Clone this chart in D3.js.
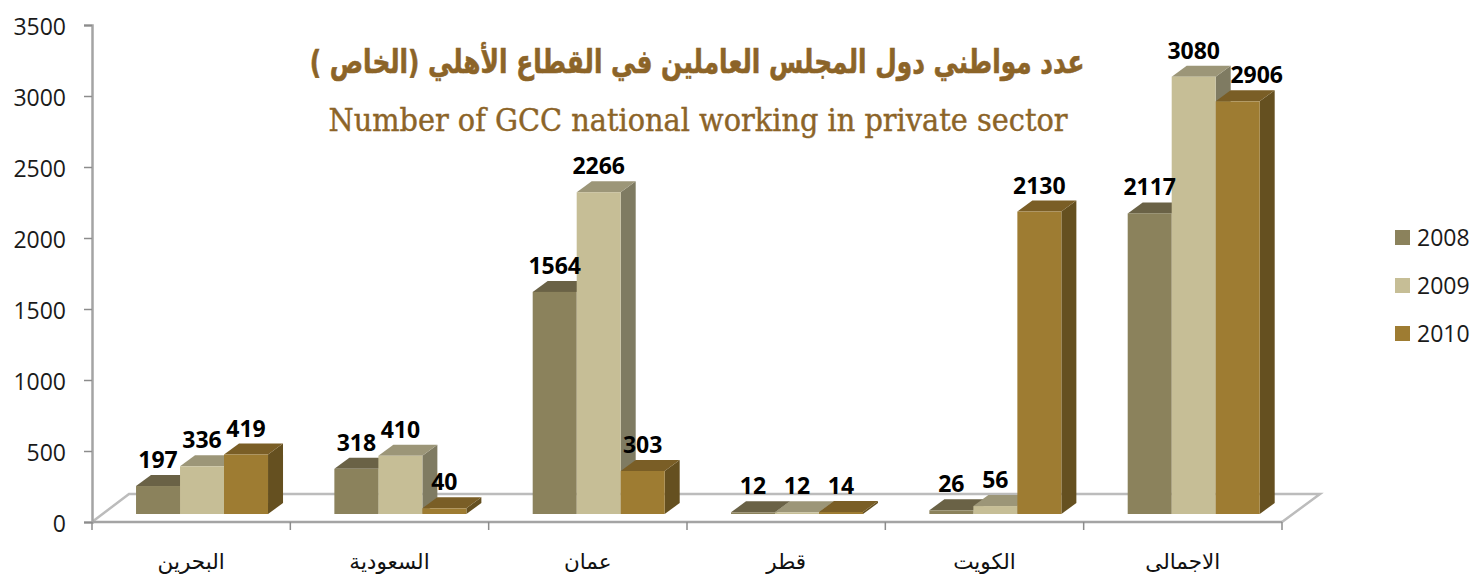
<!DOCTYPE html>
<html>
<head>
<meta charset="utf-8">
<script src="https://d3js.org/d3.v7.min.js"></script>
<style>
html,body{margin:0;padding:0;background:#fff;}
svg{display:block;}
.tick-label{font-family:"Open Sans",sans-serif;font-size:23px;fill:#1a1a1a;}
.val{font-family:"Open Sans",sans-serif;font-weight:700;font-size:23px;fill:#000;text-anchor:middle;}
.cat{font-family:"DejaVu Sans",sans-serif;font-size:21.5px;fill:#111;text-anchor:middle;direction:rtl;}
</style>
</head>
<body>
<script>
var categories=["البحرين","السعودية","عمان","قطر","الكويت","الاجمالى"];
var years=["2008","2009","2010"];
var values2008=[197,318,1564,12,26,2117];
var values2009=[336,410,2266,12,56,3080];
var values2010=[419,40,303,14,2130,2906];
var yTicks=[0,500,1000,1500,2000,2500,3000,3500];
var titleAr="عدد مواطني دول المجلس العاملين في القطاع الأهلي (الخاص )";
var titleEn="Number of GCC national working in private sector";

var width=1472,height=576;
var seriesValues=[values2008,values2009,values2010];
//front, top and side shades for each year
var front=["#8b825c","#c6be96","#9e7c32"];
var topFace=["#6a6246","#9c9678","#7a5e26"];
var side=["#7f7b62","#7f7b62","#655020"];
var depthX=15,depthY=11,floorShift=8;

var svg=d3.select("body").append("svg").attr("width",width).attr("height",height);

var y=d3.scaleLinear().domain([0,3500]).range([522,25]);
var x=d3.scaleBand().domain(categories).range([92,1282]);
var bandW=x.bandwidth();
var xInner=d3.scaleBand().domain(years).range([bandW*0.222,bandW*0.222+132]);

//floor
var floor=d3.path();
floor.moveTo(x.range()[0],y(0));
floor.lineTo(129,494);
floor.lineTo(1320,494);
floor.lineTo(x.range()[1],y(0));
svg.append("path").attr("d",floor.toString()).attr("fill","#fff").attr("stroke","#bcbcbc").attr("stroke-width",2.5);

//y axis
var yAxis=d3.axisLeft(y).tickValues(yTicks).tickSize(8).tickPadding(18).tickFormat(d3.format("d"));
var gy=svg.append("g").attr("transform","translate(92,0)").call(yAxis);
gy.selectAll("path").attr("stroke","#a4a4a4").attr("stroke-width",2.5);
gy.selectAll("line").attr("stroke","#8c8c8c").attr("stroke-width",1.5);
gy.selectAll("text").attr("class","tick-label").attr("dy","0.42em").attr("font-size",null).attr("font-family",null);

//x axis
var xBottom=svg.append("g");
xBottom.append("line").attr("x1",x.range()[0]).attr("x2",x.range()[1]).attr("y1",y(0)).attr("y2",y(0))
    .attr("stroke","#a4a4a4").attr("stroke-width",2.5);
categories.concat(["end"]).forEach(function(c){
    var px=c=="end"?x.range()[1]:x(c);
    xBottom.append("line").attr("x1",px).attr("x2",px).attr("y1",y(0)).attr("y2",y(0)+8)
        .attr("stroke","#8c8c8c").attr("stroke-width",1.5);
});
categories.forEach(function(c){
    svg.append("text").attr("class","cat").attr("x",x(c)+bandW/2).attr("y",569).text(c);
});

//bars
function barY(v){return y(v)-floorShift;}
categories.forEach(function(c,i){
    var g=svg.append("g").attr("transform","translate("+x(c)+",0)");
    years.forEach(function(yr,s){
        var v=seriesValues[s][i];
        var x0=xInner(yr),w=xInner.bandwidth(),t=barY(v),b=barY(0);
        g.append("polygon").attr("fill",side[s])
            .attr("points",[[x0+w,t],[x0+w+depthX,t-depthY],[x0+w+depthX,b-depthY],[x0+w,b]].join(" "));
        g.append("polygon").attr("fill",topFace[s])
            .attr("points",[[x0,t],[x0+depthX,t-depthY],[x0+w+depthX,t-depthY],[x0+w,t]].join(" "));
        g.append("rect").attr("x",x0).attr("y",t).attr("width",w).attr("height",b-t).attr("fill",front[s]);
    });
});

//value labels go on top of all the bars
categories.forEach(function(c,i){
    years.forEach(function(yr,s){
        var v=seriesValues[s][i];
        var nudge=(i==5&&s==2)?19:0;
        svg.append("text").attr("class","val")
            .attr("x",x(c)+xInner(yr)+xInner.bandwidth()/2+nudge)
            .attr("y",barY(v)-18).text(v);
    });
});

//titles
svg.append("text").text(titleAr).attr("transform","translate(697,73) scale(0.92,1.2)").attr("text-anchor","middle")
    .style("direction","rtl").style("font-family","'DejaVu Sans',sans-serif").style("font-weight","700")
    .style("font-size","27px").attr("fill","#8c6428").attr("stroke","#8c6428").attr("stroke-width",0.5);
svg.append("text").text(titleEn).attr("x",698).attr("y",131).attr("text-anchor","middle")
    .style("font-family","'DejaVu Serif Condensed','DejaVu Serif',serif").style("font-stretch","condensed")
    .style("font-size","32px").attr("fill","#8c6428").attr("stroke","#8c6428").attr("stroke-width",0.4);

//legend
var legendY=d3.scalePoint().domain(years).range([237.5,333.5]);
years.forEach(function(yr,s){
    svg.append("rect").attr("x",1395).attr("y",legendY(yr)-7.5).attr("width",15).attr("height",15).attr("fill",front[s]);
    svg.append("text").attr("class","tick-label").attr("x",1417).attr("y",legendY(yr)).attr("dy","0.36em").text(yr);
});
</script>
</body>
</html>
